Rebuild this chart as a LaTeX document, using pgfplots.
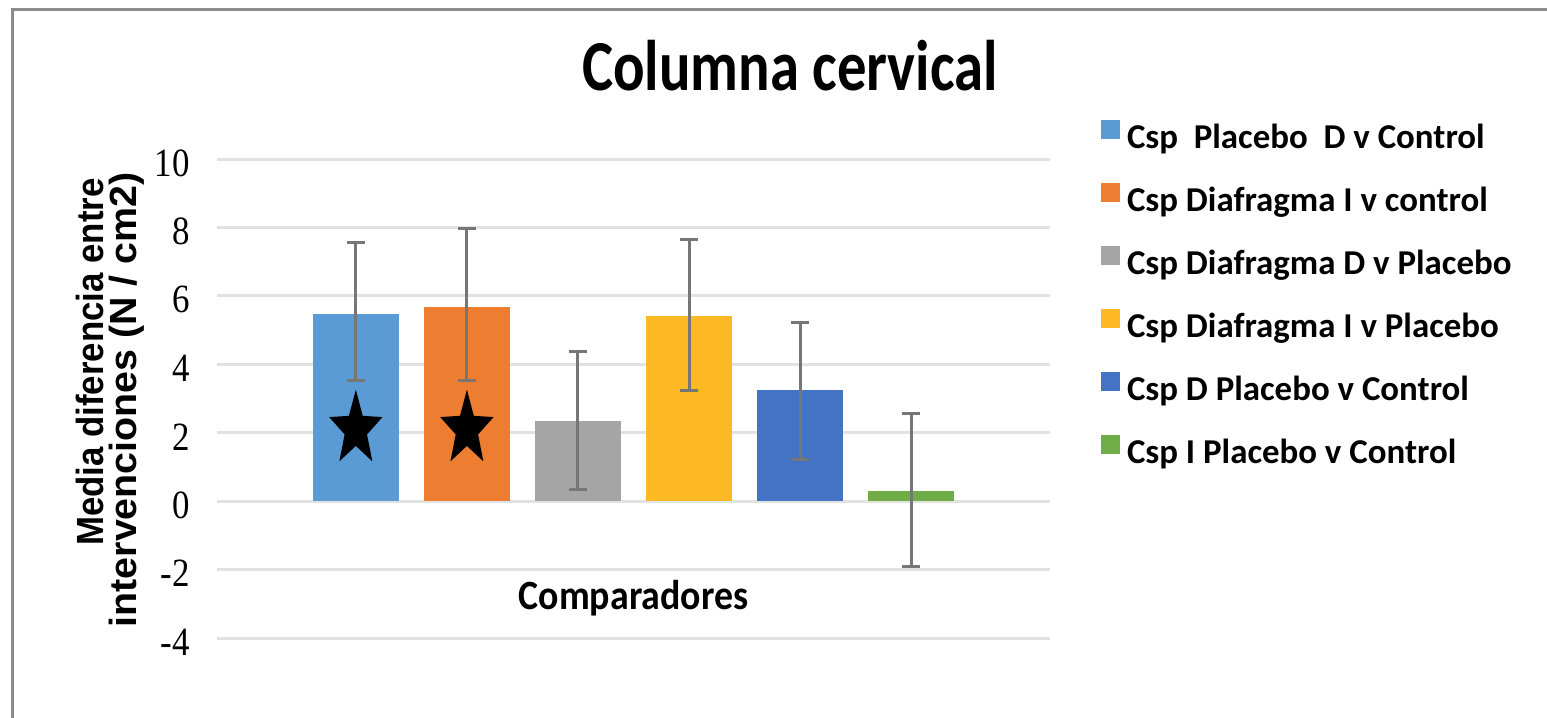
\documentclass[border=0pt]{standalone}
\usepackage{pgfplots}
\pgfplotsset{compat=1.18}
\usepackage{fontspec}
\setmainfont{Carlito}
\newfontfamily\serifnum{Liberation Serif}
\newfontfamily\ylabfont{Liberation Sans}
\definecolor{c1}{HTML}{5B9BD5}
\definecolor{c2}{HTML}{ED7D31}
\definecolor{c3}{HTML}{A5A5A5}
\definecolor{c4}{HTML}{FDB924}
\definecolor{c5}{HTML}{4472C4}
\definecolor{c6}{HTML}{70AD47}
\definecolor{errc}{HTML}{767676}
\definecolor{gridc}{HTML}{E2E2E2}
\definecolor{framec}{HTML}{8C8C8C}
\newcommand\tl[1]{\scalebox{1}[1.15]{#1}}
\pgfdeclareplotmark{fstar}{%
  \pgfpathmoveto{\pgfpointpolar{90}{\pgfplotmarksize}}%
  \pgfpathlineto{\pgfpointpolar{126}{0.42\pgfplotmarksize}}%
  \pgfpathlineto{\pgfpointpolar{162}{\pgfplotmarksize}}%
  \pgfpathlineto{\pgfpointpolar{198}{0.42\pgfplotmarksize}}%
  \pgfpathlineto{\pgfpointpolar{234}{\pgfplotmarksize}}%
  \pgfpathlineto{\pgfpointpolar{270}{0.42\pgfplotmarksize}}%
  \pgfpathlineto{\pgfpointpolar{306}{\pgfplotmarksize}}%
  \pgfpathlineto{\pgfpointpolar{342}{0.42\pgfplotmarksize}}%
  \pgfpathlineto{\pgfpointpolar{18}{\pgfplotmarksize}}%
  \pgfpathlineto{\pgfpointpolar{54}{0.42\pgfplotmarksize}}%
  \pgfpathclose
  \pgfusepathqfill
}
\begin{document}
\begin{tikzpicture}[x=1bp,y=1bp]
\path[use as bounding box] (0,0) rectangle (1547,-718);
\draw[framec, line width=3bp] (12,-725) -- (12,-10) -- (1555,-10);
\node[anchor=base, inner sep=0pt] at (790,-91) {\scalebox{1}[1.22]{\fontsize{59}{70}\selectfont\bfseries Columna cervical}};
\node[rotate=90, anchor=base east, inner sep=0pt] at (103,-178) {\scalebox{0.92}[1]{\ylabfont\bfseries\fontsize{38}{40}\selectfont Media diferencia entre}};
\node[rotate=90, anchor=base east, inner sep=0pt] at (136,-172) {\scalebox{1.04}[1]{\ylabfont\bfseries\fontsize{38}{40}\selectfont intervenciones (N / cm2)}};
\begin{axis}[
  at={(217bp,-638bp)}, anchor=south west,
  scale only axis, width=833bp, height=479bp,
  xmin=-1.25, xmax=6.25, ymin=-4, ymax=10,
  clip=false,
  axis line style={draw=none},
  tick style={draw=none},
  xtick=\empty,
  ytick={-4,-2,0,2,4,6,8,10},
  yticklabels={\tl{-4},\tl{-2},\tl{0},\tl{2},\tl{4},\tl{6},\tl{8},\tl{10}},
  yticklabel style={font=\serifnum\fontsize{35}{35}\selectfont, anchor=east, inner sep=0pt, xshift=-27bp, yshift=-4bp},
  ymajorgrids,
  grid style={gridc, line width=3bp},
  legend cell align=left,
  legend image code/.code={\fill[#1, draw=none] (0bp,1.5bp) rectangle (19bp,20.5bp);},
  legend style={at={(1.0612,1.081)}, anchor=north west, draw=none, fill=none,
    inner sep=0pt, outer sep=0pt, row sep=26.5bp,
    font=\fontsize{35}{40}\selectfont\bfseries,
    nodes={inner sep=0pt, text height=24bp, text depth=8bp},
    /tikz/every odd column/.append style={column sep=7bp}},
  bar width=0.77,
  error bars/error bar style={errc, line width=3bp},
  error bars/error mark options={errc, line width=3bp, mark size=9bp, rotate=90},
]
\addplot[ybar, bar shift=0pt, fill=c1, draw=none, error bars/.cd, y dir=both, y explicit]
  coordinates {(0,5.47) += (0,2.09) -= (0,1.95)};
\addlegendentry{Csp~~Placebo~~D v Control}
\addplot[ybar, bar shift=0pt, fill=c2, draw=none, error bars/.cd, y dir=both, y explicit]
  coordinates {(1,5.67) += (0,2.30) -= (0,2.15)};
\addlegendentry{Csp Diafragma I v control}
\addplot[ybar, bar shift=0pt, fill=c3, draw=none, error bars/.cd, y dir=both, y explicit]
  coordinates {(2,2.33) += (0,2.03) -= (0,1.99)};
\addlegendentry{Csp Diafragma D v Placebo}
\addplot[ybar, bar shift=0pt, fill=c4, draw=none, error bars/.cd, y dir=both, y explicit]
  coordinates {(3,5.41) += (0,2.24) -= (0,2.18)};
\addlegendentry{Csp Diafragma I v Placebo}
\addplot[ybar, bar shift=0pt, fill=c5, draw=none, error bars/.cd, y dir=both, y explicit]
  coordinates {(4,3.26) += (0,1.97) -= (0,2.05)};
\addlegendentry{Csp D Placebo v Control}
\addplot[ybar, bar shift=0pt, fill=c6, draw=none, error bars/.cd, y dir=both, y explicit]
  coordinates {(5,0.29) += (0,2.28) -= (0,2.20)};
\addlegendentry{Csp I Placebo v Control}
\addplot[only marks, mark=fstar, mark size=33bp, mark options={fill=black, draw=none, xscale=0.85, yscale=1.2}, forget plot]
  coordinates {(0,2.1) (1,2.1)};
\node[anchor=base, inner sep=0pt] at (axis cs:2.5,-3.16) {\scalebox{1}[1.1]{\fontsize{38}{40}\selectfont\bfseries Comparadores}};
\end{axis}
\end{tikzpicture}
\end{document}
